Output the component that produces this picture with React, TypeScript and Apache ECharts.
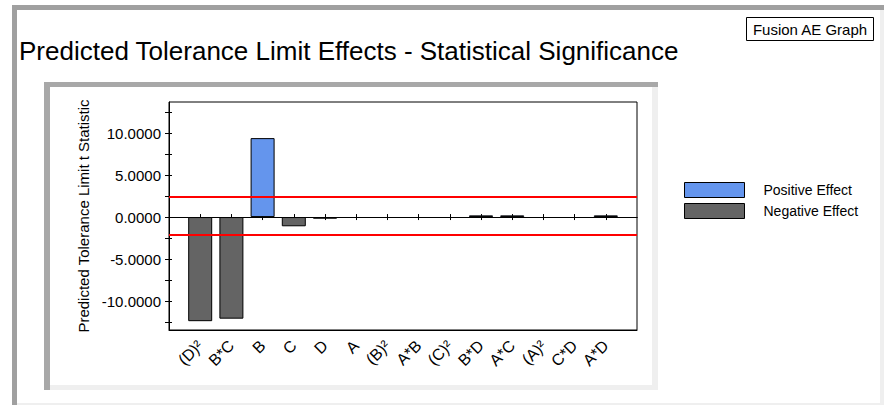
import React, { useEffect, useRef } from "react";
import * as echarts from "echarts";

const categories = ["(D)²", "B*C", "B", "C", "D", "A", "(B)²", "A*B", "(C)²", "B*D", "A*C", "(A)²", "C*D", "A*D"];
const tStatistics = [-12.4, -12.1, 9.4, -1.1, -0.2, 0, 0, 0, 0, 0.2, 0.2, 0, 0, 0.2];
const significanceLimits = [2.45, -2.1];
const yTickValues = [-12.5, -10, -7.5, -5, -2.5, 0, 2.5, 5, 7.5, 10, 12.5];
const yLabelValues = [-10, -5, 0, 5, 10];
const legendNames = ["Positive Effect", "Negative Effect"];
const titleText = "Predicted Tolerance Limit Effects - Statistical Significance";
const yAxisName = "Predicted Tolerance Limit t Statistic";
const badgeText = "Fusion AE Graph";

const FONT = '"Liberation Sans", Arial, sans-serif';
const POS = "#6495ED";
const NEG = "#646464";

export default function App() {
  const ref = useRef<HTMLDivElement>(null);
  useEffect(() => {
    if (!ref.current) return;
    const chart = echarts.init(ref.current, undefined, { renderer: "svg" });
    const padded = ["", ...categories, " "];
    const last = padded.length - 1;
    const posData = ["-", ...tStatistics.map((v) => (v > 0 ? v : "-")), "-"];
    const negData = ["-", ...tStatistics.map((v) => (v < 0 ? v : "-")), "-"];
    const tickInterval = (i: number) => i > 0 && i < last;
    const yMin = -13.45;
    const yMax = 13.7;
    const baseX = {
      type: "category",
      data: padded,
      boundaryGap: false,
      gridIndex: 0,
      position: "bottom",
    };
    chart.setOption({
      animation: false,
      backgroundColor: "#fff",
      textStyle: { fontFamily: FONT },
      graphic: [
        { type: "rect", z: -100, shape: { x: 12, y: 5, width: 872, height: 400 }, style: { fill: "#a0a0a0" } },
        { type: "rect", z: -99, shape: { x: 17, y: 10, width: 867, height: 395 }, style: { fill: "#efefef" } },
        { type: "rect", z: -98, shape: { x: 17, y: 10, width: 863, height: 393 }, style: { fill: "#fff" } },
        { type: "rect", z: -97, shape: { x: 44, y: 82, width: 614, height: 308 }, style: { fill: "#a8a8a8" } },
        { type: "rect", z: -96, shape: { x: 50, y: 87, width: 608, height: 303 }, style: { fill: "#efefef" } },
        { type: "rect", z: -95, shape: { x: 50, y: 87, width: 602, height: 298 }, style: { fill: "#fff" } },
        {
          type: "text",
          x: 19,
          y: 51,
          style: { text: titleText, fontSize: 26, fontFamily: FONT, fill: "#000", align: "left", verticalAlign: "middle" },
        },
        {
          type: "rect",
          shape: { x: 746.5, y: 17.5, width: 127, height: 23 },
          style: { fill: "#fff", stroke: "#000", lineWidth: 1 },
        },
        {
          type: "text",
          x: 810,
          y: 29.5,
          style: { text: badgeText, fontSize: 15, fontFamily: FONT, fill: "#000", align: "center", verticalAlign: "middle" },
        },
      ],
      legend: {
        orient: "vertical",
        left: 684,
        top: 182,
        itemWidth: 60,
        itemHeight: 15,
        itemGap: 5,
        icon: "rect",
        selectedMode: false,
        padding: 0,
        textStyle: { fontSize: 14, color: "#000", fontFamily: FONT, padding: [0, 0, 0, 14] },
        data: [
          { name: legendNames[0], itemStyle: { color: POS, borderColor: "#000", borderWidth: 1 } },
          { name: legendNames[1], itemStyle: { color: NEG, borderColor: "#000", borderWidth: 1 } },
        ],
      },
      grid: {
        left: 169,
        top: 102,
        width: 468,
        height: 228,
        show: true,
        borderColor: "#000",
        borderWidth: 1,
        backgroundColor: "transparent",
      },
      xAxis: [
        {
          ...baseX,
          axisLine: { show: true, onZero: false, lineStyle: { color: "#000", width: 1 } },
          axisTick: { show: false },
          axisLabel: { interval: 0, rotate: 45, fontSize: 16, color: "#000", margin: 13, fontFamily: FONT },
          splitLine: { show: false },
        },
        {
          ...baseX,
          axisLine: { show: true, onZero: true, onZeroAxisIndex: 0, lineStyle: { color: "#000", width: 1 } },
          axisTick: { show: true, inside: true, length: 3, interval: tickInterval, lineStyle: { color: "#000" } },
          axisLabel: { show: false },
          splitLine: { show: false },
        },
        {
          ...baseX,
          axisLine: { show: true, onZero: true, onZeroAxisIndex: 0, lineStyle: { color: "#000", width: 1 } },
          axisTick: { show: true, inside: false, length: 3, interval: tickInterval, lineStyle: { color: "#000" } },
          axisLabel: { show: false },
          splitLine: { show: false },
        },
      ],
      yAxis: [
        {
          type: "value",
          min: yMin,
          max: yMax,
          position: "left",
          axisLine: { show: true, onZero: false, lineStyle: { color: "#000" } },
          axisTick: { show: true, length: 4, customValues: yTickValues, lineStyle: { color: "#000" } },
          axisLabel: {
            customValues: yLabelValues,
            formatter: (v: number) => v.toFixed(4),
            fontSize: 15,
            color: "#000",
            margin: 8,
            fontFamily: FONT,
          },
          splitLine: { show: false },
          name: yAxisName,
          nameLocation: "middle",
          nameGap: 77,
          nameTextStyle: { fontSize: 15, color: "#000", fontFamily: FONT },
        },
        {
          type: "value",
          min: yMin,
          max: yMax,
          position: "left",
          axisLine: { show: false, onZero: false },
          axisTick: { show: true, inside: true, length: 3, customValues: yTickValues, lineStyle: { color: "#000" } },
          axisLabel: { show: false },
          splitLine: { show: false },
        },
      ],
      series: [
        {
          name: legendNames[0],
          type: "bar",
          xAxisIndex: 0,
          yAxisIndex: 0,
          data: posData,
          barWidth: 24,
          barGap: "-100%",
          itemStyle: { color: POS, borderColor: "#000", borderWidth: 1 },
          markLine: {
            silent: true,
            symbol: ["none", "none"],
            label: { show: false },
            lineStyle: { color: "#ff0000", width: 2, type: "solid" },
            data: significanceLimits.map((v) => ({ yAxis: v })),
          },
        },
        {
          name: legendNames[1],
          type: "bar",
          xAxisIndex: 0,
          yAxisIndex: 0,
          data: negData,
          barWidth: 24,
          barGap: "-100%",
          itemStyle: { color: NEG, borderColor: "#000", borderWidth: 1 },
        },
      ],
    });
    return () => chart.dispose();
  }, []);
  return <div ref={ref} style={{ position: "absolute", left: 0, top: 0, width: 884, height: 405 }} />;
}
